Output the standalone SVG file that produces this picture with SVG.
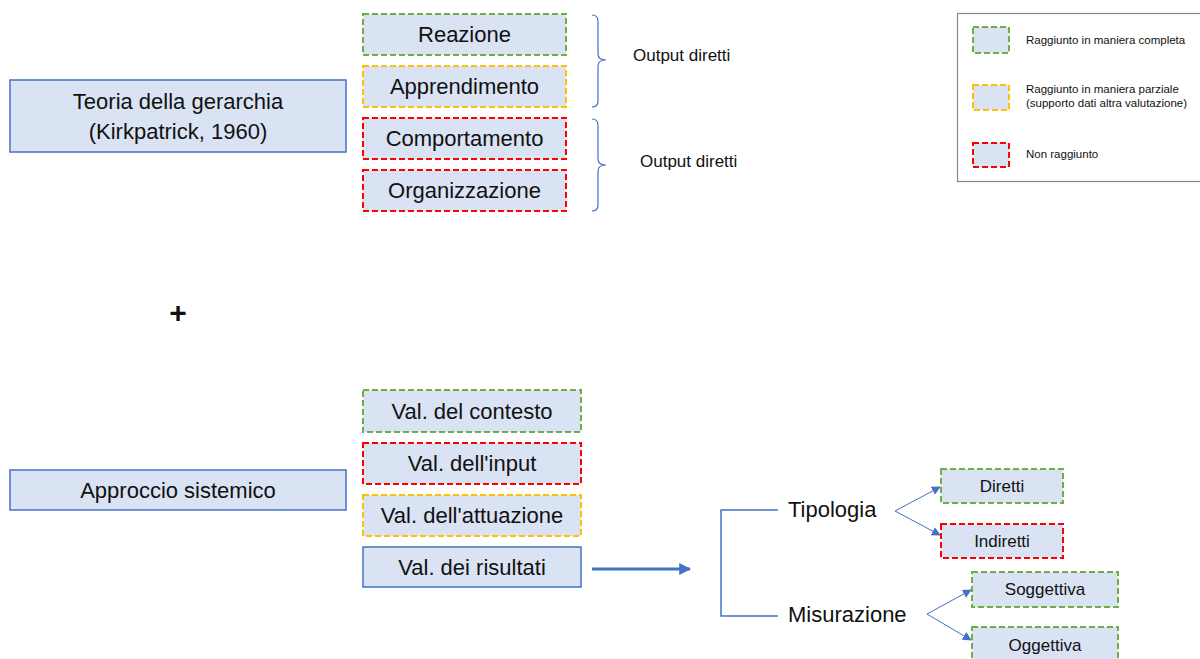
<svg xmlns="http://www.w3.org/2000/svg" width="1200" height="659" viewBox="0 0 1200 659">
<defs>
<marker id="ah" viewBox="0 0 10 10" refX="9" refY="5" markerWidth="9" markerHeight="9" markerUnits="userSpaceOnUse" orient="auto"><path d="M0,0 L10,5 L0,10 z" fill="#4472C4"/></marker>
<marker id="ahb" viewBox="0 0 10 10" refX="9" refY="5" markerWidth="4" markerHeight="4" orient="auto"><path d="M0,0 L10,5 L0,10 z" fill="#4472C4"/></marker>
</defs>
<style>
text{font-family:"Liberation Sans",Arial,sans-serif;fill:#111}
.b{fill:#DAE3F3;stroke-width:2}
.solid{stroke:#4472C4;stroke-width:1.5}
.g{stroke:#70AD47;stroke-dasharray:6 3}
.y{stroke:#FFC000;stroke-dasharray:6 3}
.r{stroke:#FF0000;stroke-dasharray:6 3}
.t22{font-size:22px;text-anchor:middle}
.t17{font-size:17px;text-anchor:middle}
.lg{font-size:11.5px}
.line{stroke:#4472C4;fill:none}
</style>
<rect width="1200" height="659" fill="#fff"/>

<g id="teoria"><rect class="b solid" x="10" y="80" width="336" height="72"/>
<text class="t22" x="178" y="109">Teoria della gerarchia</text>
<text class="t22" x="178" y="139">(Kirkpatrick, 1960)</text></g>

<g id="reazione"><rect class="b g" x="363" y="14" width="203" height="41"/><text class="t22" x="464.5" y="42">Reazione</text></g>
<g id="apprendimento"><rect class="b y" x="363" y="66" width="203" height="41"/><text class="t22" x="464.5" y="94">Apprendimento</text></g>
<g id="comportamento"><rect class="b r" x="363" y="118" width="203" height="41"/><text class="t22" x="464.5" y="146">Comportamento</text></g>
<g id="organizzazione"><rect class="b r" x="363" y="170" width="203" height="41"/><text class="t22" x="464.5" y="198">Organizzazione</text></g>

<g id="brace1"><path class="line" stroke-width="1.2" d="M592,15 Q598,15 598,21 L598,54 Q598,60 606,60 Q598,60 598,66 L598,101 Q598,107 592,107"/>
<text x="633" y="61" style="font-size:17px">Output diretti</text></g>
<g id="brace2"><path class="line" stroke-width="1.2" d="M592,119 Q598,119 598,125 L598,159 Q598,165 606,165 Q598,165 598,171 L598,205 Q598,211 592,211"/>
<text x="640" y="167" style="font-size:17px">Output diretti</text></g>

<g id="legend"><rect x="957.500" y="13.500" width="250" height="168" fill="#fff" stroke="#888" stroke-width="1.2"/>
<rect class="b g" x="973" y="27" width="36" height="26"/>
<text class="lg" x="1026" y="44">Raggiunto in maniera completa</text>
<rect class="b y" x="973" y="85" width="36" height="25"/>
<text class="lg" x="1026" y="93">Raggiunto in maniera parziale</text>
<text class="lg" x="1026" y="107">(supporto dati altra valutazione)</text>
<rect class="b r" x="973" y="143" width="36" height="24"/>
<text class="lg" x="1026" y="158">Non raggiunto</text></g>

<g id="plus"><text x="178" y="323" style="font-size:30px;font-weight:bold;text-anchor:middle">+</text></g>

<g id="approccio"><rect class="b solid" x="10" y="470" width="336" height="40"/><text class="t22" x="178" y="498">Approccio sistemico</text></g>

<g id="contesto"><rect class="b g" x="363" y="390" width="218" height="42"/><text class="t22" x="472" y="419">Val. del contesto</text></g>
<g id="input"><rect class="b r" x="363" y="443" width="218" height="41"/><text class="t22" x="472" y="471">Val. dell'input</text></g>
<g id="attuazione"><rect class="b y" x="363" y="495" width="218" height="41"/><text class="t22" x="472" y="523">Val. dell'attuazione</text></g>
<g id="risultati"><rect class="b solid" x="363" y="547" width="218" height="40"/><text class="t22" x="472" y="575">Val. dei risultati</text></g>

<g id="tipologia"><text x="788" y="517" style="font-size:22px">Tipologia</text></g>
<g id="misurazione"><text x="788" y="622" style="font-size:22px">Misurazione</text></g>

<g id="diretti"><rect class="b g" x="941" y="469" width="122" height="34"/><text class="t17" x="1002" y="492">Diretti</text></g>
<g id="indiretti"><rect class="b r" x="941" y="524" width="122" height="34"/><text class="t17" x="1002" y="547">Indiretti</text></g>
<g id="soggettiva"><rect class="b g" x="972" y="572" width="146" height="35"/><text class="t17" x="1045" y="595">Soggettiva</text></g>
<g id="oggettiva"><rect class="b g" x="972" y="627" width="146" height="36"/><text class="t17" x="1045" y="651">Oggettiva</text></g>

<g id="connectors">
<line x1="592" y1="569" x2="690" y2="569" stroke="#4472C4" stroke-width="3" marker-end="url(#ahb)"/>
<path class="line" stroke-width="1.5" d="M778,510 L721,510 L721,616 L778,616"/>
<line class="line" x1="895" y1="511" x2="940" y2="487" stroke-width="1" marker-end="url(#ah)"/>
<line class="line" x1="895" y1="511" x2="940" y2="535" stroke-width="1" marker-end="url(#ah)"/>
<line class="line" x1="927" y1="614" x2="971" y2="590" stroke-width="1" marker-end="url(#ah)"/>
<line class="line" x1="927" y1="614" x2="971" y2="640" stroke-width="1" marker-end="url(#ah)"/>
</g>
</svg>
